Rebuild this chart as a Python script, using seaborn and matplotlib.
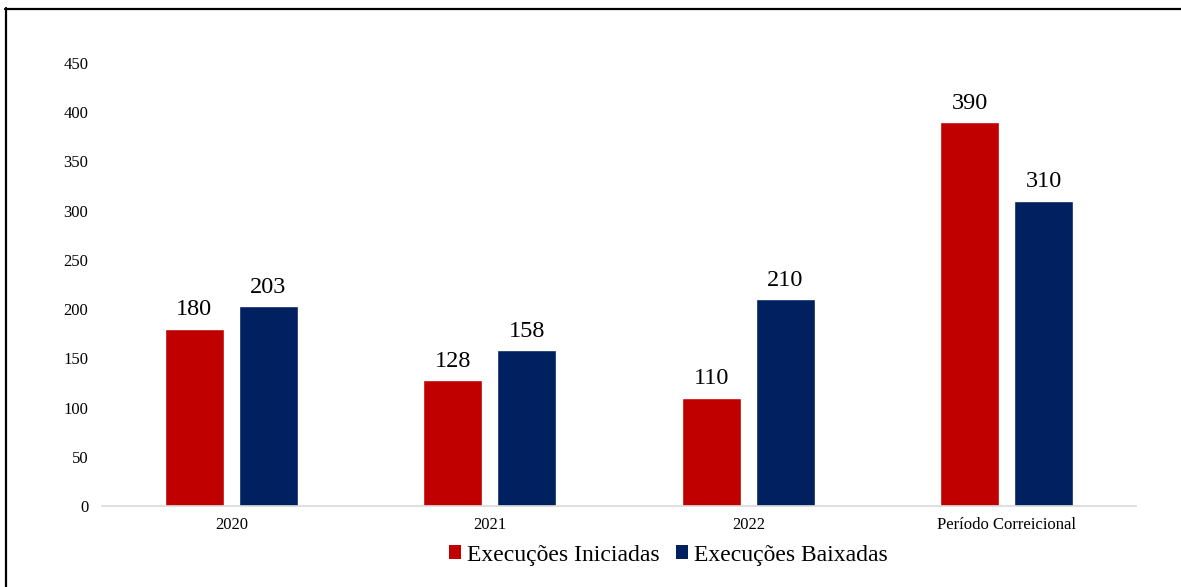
import matplotlib
matplotlib.use("Agg")
import matplotlib.pyplot as plt
from matplotlib.lines import Line2D
from matplotlib.patches import Patch
import pandas as pd
import seaborn as sns

# Data
periods = ["2020", "2021", "2022", "Período Correicional"]
iniciadas = [180, 128, 110, 390]
baixadas = [203, 158, 210, 310]
series_names = ["Execuções Iniciadas", "Execuções Baixadas"]
colors = ["#C00000", "#002060"]

df = pd.DataFrame({
    "periodo": periods * 2,
    "valor": iniciadas + baixadas,
    "serie": [series_names[0]] * len(periods) + [series_names[1]] * len(periods),
})

sns.set_theme(style="white")
plt.rcParams["font.family"] = ["Liberation Serif", "DejaVu Serif"]
plt.rcParams["text.color"] = "black"

fig = plt.figure(figsize=(11.81, 5.87), dpi=100)
ax = fig.add_axes([0.0864, 0.138, 0.8756, 0.755])

sns.barplot(
    data=df, x="periodo", y="valor", hue="serie",
    order=periods, hue_order=series_names,
    palette=colors, width=0.572, gap=0.2,
    saturation=1, legend=False, ax=ax, errorbar=None,
)

for cont in ax.containers:
    ax.bar_label(cont, fmt="%d", padding=6, fontsize=17.5, color="black")

ax.set_xlim(-0.5, len(periods) - 0.5)
ax.set_ylim(0, 450)
ax.set_yticks(range(0, 451, 50))
ax.set_xlabel("")
ax.set_ylabel("")
ax.tick_params(axis="both", length=0, labelsize=12, colors="black")
ax.tick_params(axis="y", pad=10)
ax.tick_params(axis="x", pad=8)
for side in ["left", "right", "top"]:
    ax.spines[side].set_visible(False)
ax.spines["bottom"].set_color("#D9D9D9")
ax.spines["bottom"].set_linewidth(1.2)
ax.grid(False)

handles = [Patch(facecolor=c, edgecolor="none") for c in colors]
fig.legend(
    handles, series_names, loc="center", bbox_to_anchor=(0.566, 1 - 555 / 587),
    ncol=2, frameon=False, fontsize=17, handlelength=0.5, handleheight=0.5,
    handletextpad=0.25, columnspacing=0.7, labelcolor="black",
)

# Frame lines along the top and left edges
fig.add_artist(Line2D([5 / 1181, 1.0], [1 - 9 / 587, 1 - 9 / 587],
                      transform=fig.transFigure, color="black", linewidth=1.6))
fig.add_artist(Line2D([6 / 1181, 6 / 1181], [0.0, 1 - 8 / 587],
                      transform=fig.transFigure, color="black", linewidth=1.6))

fig.savefig("out.png", dpi=100)
